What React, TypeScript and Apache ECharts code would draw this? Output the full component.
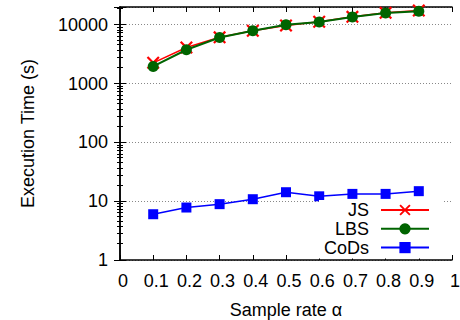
import React, { useEffect, useRef } from "react";
import * as echarts from "echarts";

const sampleRates = [0.1, 0.2, 0.3, 0.4, 0.5, 0.6, 0.7, 0.8, 0.9];
const jsTimes = [2250, 4100, 6100, 7900, 9700, 11200, 13600, 15900, 17400];
const lbsTimes = [1950, 3750, 6050, 7900, 10000, 11100, 13500, 15800, 16900];
const codsTimes = [6.0, 7.8, 8.9, 10.8, 14.2, 12.1, 13.3, 13.3, 14.8];
const yTickLabels = [1, 10, 100, 1000, 10000];

const FONT = "Liberation Sans, Arial, Helvetica, sans-serif";
const crossPath =
  "path://M0,1.2L1.2,0L5,3.8L8.8,0L10,1.2L6.2,5L10,8.8L8.8,10L5,6.2L1.2,10L0,8.8L3.8,5Z";

export default function App() {
  const ref = useRef<HTMLDivElement>(null);
  useEffect(() => {
    if (!ref.current) return;
    const chart = echarts.init(ref.current, undefined, { renderer: "svg" });
    const pair = (arr: number[]) => sampleRates.map((x, i) => [x, arr[i]]);
    const axisLine = { show: true, lineStyle: { color: "#000", width: 1.5 } };
    const xCommon = {
      type: "value" as const,
      min: 0,
      max: 1,
      interval: 0.1,
      axisLine,
      axisTick: { show: true, inside: true, length: 5, lineStyle: { color: "#000", width: 1 } },
      splitLine: { show: false },
    };
    const yCommon = {
      type: "log" as const,
      logBase: 10,
      min: 1,
      max: 20000,
      axisLine,
      axisTick: { show: true, inside: true, length: 6, lineStyle: { color: "#000", width: 1 } },
      minorTick: { show: true, splitNumber: 10, length: 3, lineStyle: { color: "#000", width: 1 } },
    };
    chart.setOption({
      animation: false,
      backgroundColor: "#fff",
      textStyle: { fontFamily: FONT },
      grid: { left: 120, right: 8, top: 7, bottom: 60, containLabel: false, outerBoundsMode: "none" },
      xAxis: [
        {
          ...xCommon,
          position: "bottom",
          name: "Sample rate α",
          nameLocation: "middle",
          nameGap: 41,
          nameTextStyle: { fontSize: 18, color: "#000", fontFamily: FONT },
          axisLabel: { fontSize: 18, color: "#000", margin: 12, fontFamily: FONT, padding: [0, 0, 0, 6] },
        },
        { ...xCommon, position: "top", axisLabel: { show: false } },
      ],
      yAxis: [
        {
          ...yCommon,
          position: "left",
          name: "Execution Time (s)",
          nameLocation: "middle",
          nameGap: 83,
          nameTextStyle: { fontSize: 18, color: "#000", fontFamily: FONT },
          axisLabel: {
            fontSize: 18,
            color: "#000",
            margin: 12,
            fontFamily: FONT,
            formatter: (v: number) => (yTickLabels.includes(Math.round(v)) ? String(Math.round(v)) : ""),
          },
          splitLine: {
            show: true,
            lineStyle: { color: "#888", type: [1, 2], width: 1 },
          },
        },
        {
          ...yCommon,
          position: "right",
          axisLabel: { show: false },
          splitLine: { show: false },
        },
      ],
      legend: {
        orient: "vertical",
        align: "right",
        right: 18,
        top: 200,
        itemWidth: 48,
        itemHeight: 14,
        itemGap: 0.8,
        padding: [1, 12, 2, 5],
        backgroundColor: "#fff",
        textStyle: { fontSize: 18, color: "#000", fontFamily: FONT, lineHeight: 18, padding: [0, 7, 0, 0] },
        data: ["JS", "LBS", "CoDs"],
      },
      series: [
        {
          name: "JS",
          type: "line",
          data: pair(jsTimes),
          symbol: crossPath,
          symbolSize: 13,
          lineStyle: { color: "#ff0000", width: 1.5 },
          itemStyle: { color: "#ff0000" },
          z: 2,
        },
        {
          name: "LBS",
          type: "line",
          data: pair(lbsTimes),
          symbol: "circle",
          symbolSize: 11,
          lineStyle: { color: "#006400", width: 2 },
          itemStyle: { color: "#006400" },
          z: 3,
        },
        {
          name: "CoDs",
          type: "line",
          data: pair(codsTimes),
          symbol: "rect",
          symbolSize: 10,
          lineStyle: { color: "#0000ff", width: 1.5 },
          itemStyle: { color: "#0000ff" },
          z: 3,
        },
      ],
    });
    return () => chart.dispose();
  }, []);
  return <div ref={ref} style={{ width: 460, height: 320, position: "absolute", left: 0, top: 0 }} />;
}
